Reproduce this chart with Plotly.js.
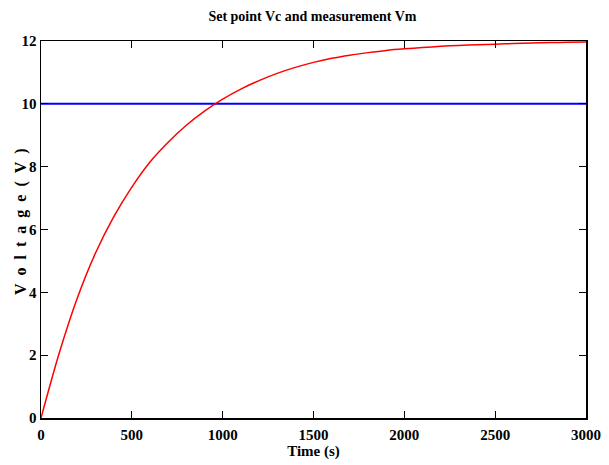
<!DOCTYPE html>
<html>
<head>
<meta charset="utf-8">
<script src="https://cdn.plot.ly/plotly-3.0.1.min.js"></script>
<style>html,body{margin:0;padding:0;background:#fff;}#chart{width:609px;height:465px;}</style>
</head>
<body>
<div id="chart"></div>
<script>
// Time axis (s)
const timeS = [0,100,200,300,400,500,600,700,800,900,1000,1100,1200,1300,1400,1500,1600,1700,1800,1900,2000,2100,2200,2300,2400,2500,2600,2700,2800,2900,3000];
const measVm = [0,2.06,3.82,5.25,6.4,7.35,8.15,8.78,9.32,9.77,10.15,10.47,10.74,10.97,11.16,11.32,11.45,11.55,11.63,11.7,11.75,11.79,11.83,11.86,11.88,11.9,11.92,11.94,11.95,11.96,11.97];
// Set point Vc (V)
const setTime = [0,3000];
const setVc = [10,10];
const xTicks = [0,500,1000,1500,2000,2500,3000];
const yTicks = [0,2,4,6,8,10,12];

const font = {family:'"Liberation Serif", "Times New Roman", serif', color:'#000'};
const traces = [
  {x:setTime, y:setVc, mode:'lines', line:{color:'#0000ff', width:2}, hoverinfo:'skip', name:'Vc'},
  {x:timeS, y:measVm, mode:'lines', line:{color:'#ff0000', width:1.5, shape:'spline', smoothing:0.8}, hoverinfo:'skip', name:'Vm'}
];
const axisCommon = {showline:true, linecolor:'#000', linewidth:1.5, mirror:'ticks', ticks:'inside', ticklen:7, tickwidth:1, tickcolor:'#000', showgrid:false, zeroline:false, tickfont:Object.assign({size:15, weight:'bold'}, font)};
const ySp = '&nbsp;&nbsp;';
const yTitle = ['V','o','l','t','a','g','e','(','V',')'].join(ySp);
const layout = {
  width:609, height:465,
  margin:{l:41, r:23, t:41, b:47},
  paper_bgcolor:'#fff', plot_bgcolor:'#fff',
  showlegend:false,
  title:{text:'<b>Set point Vc and measurement Vm</b>', font:Object.assign({size:14}, font), x:0.513, xanchor:'center', y:0.965, yanchor:'middle'},
  xaxis:Object.assign({}, axisCommon, {range:[0,3000], tickvals:xTicks, ticktext:xTicks.map(String), ticklabelstandoff:2,
    title:{text:'<b>Time (s)</b>', font:Object.assign({size:15}, font), standoff:4}}),
  yaxis:Object.assign({}, axisCommon, {range:[0,12], tickvals:yTicks, ticktext:yTicks.map(String), ticklabelstandoff:0}),
  annotations:[{text:'<b>' + yTitle + '</b>', xref:'paper', yref:'paper', x:-20/545, y:0.52, xanchor:'center', yanchor:'middle', textangle:-90, showarrow:false, font:Object.assign({size:16}, font)}]
};
Plotly.newPlot('chart', traces, layout, {staticPlot:true, displayModeBar:false});
</script>
</body>
</html>
